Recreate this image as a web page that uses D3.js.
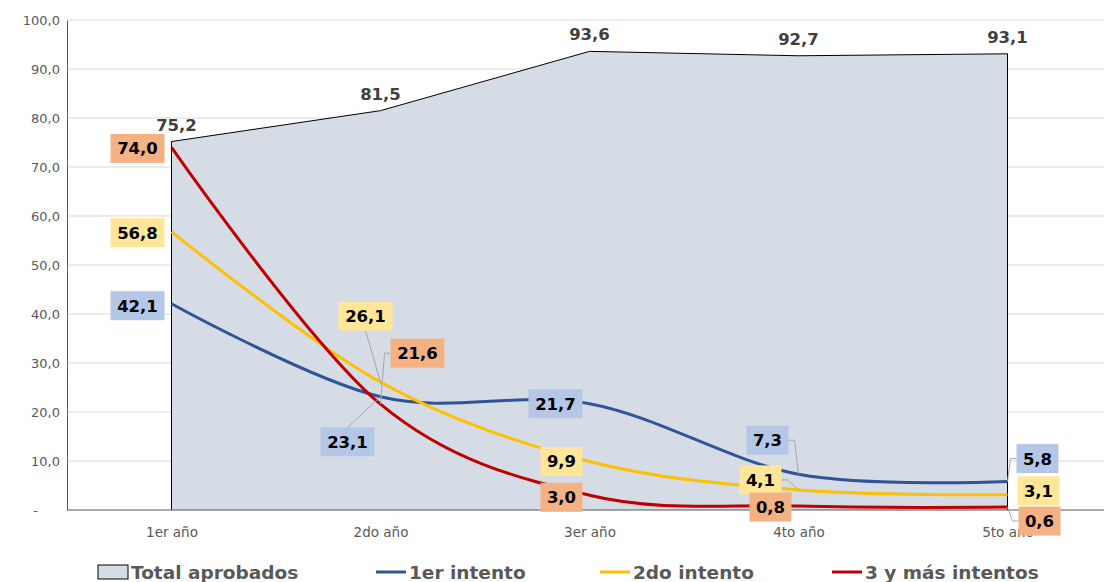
<!DOCTYPE html>
<html>
<head>
<meta charset="utf-8"/>
<title>Aprobados por intento</title>
<script src="https://cdn.jsdelivr.net/npm/d3@7/dist/d3.min.js"></script>
<style>
  body { margin: 0; background: #fff; }
  text { font-family: "DejaVu Sans", sans-serif; }
</style>
</head>
<body>
<script>
  // data
  var years = ["1er año", "2do año", "3er año", "4to año", "5to año"];
  var totalAprobados = [75.2, 81.5, 93.6, 92.7, 93.1];
  var intento1 = [42.1, 23.1, 21.7, 7.3, 5.8];
  var intento2 = [56.8, 26.1, 9.9, 4.1, 3.1];
  var intento3 = [74.0, 21.6, 3.0, 0.8, 0.6];
  var yTicks = [0, 10, 20, 30, 40, 50, 60, 70, 80, 90, 100];
  var seriesNames = ["Total aprobados", "1er intento", "2do intento", "3 y más intentos"];

  // label offsets (box centre relative to the point), in px; 3rd item: leader from side (s) or top/bottom (v)
  var off1 = [[-34, 2], [-33, 45, "v"], [-34, 0], [-31, -34, "s"], [30, -23, "s"]];
  var off2 = [[-34, 1], [-15, -66, "v"], [-28, 0], [-38, -10, "s"], [31, -4]];
  var off3 = [[-34, 1], [37, -51, "s"], [-28, 2], [-28, 1], [32, 14, "s"]];

  var W = 1104, H = 582;
  var svg = d3.select("body").append("svg").attr("width", W).attr("height", H);

  var x = d3.scalePoint().domain(years).range([67, 1112]).padding(0.5);
  var y = d3.scaleLinear().domain([0, 100]).range([510, 20]);
  var fmt = function(v) { return d3.format(".1f")(v).replace(".", ","); };

  // grid
  svg.append("g").selectAll("line").data(yTicks.slice(1)).enter().append("line")
    .attr("x1", 67).attr("x2", W).attr("y1", function(d){ return y(d); }).attr("y2", function(d){ return y(d); })
    .style("stroke", "#d9d9d9").style("stroke-width", 1);

  // area for total
  var area = d3.area().x(function(d, i){ return x(years[i]); }).y0(y(0)).y1(function(d){ return y(d); });
  svg.append("path").datum(totalAprobados).attr("d", area)
    .style("fill", "#d6dce5").style("stroke", "none");
  var outline = [[x(years[0]), y(0)]].concat(totalAprobados.map(function(d, i){ return [x(years[i]), y(d)]; }))
    .concat([[x(years[4]), y(0)]]);
  svg.append("path").attr("d", d3.line()(outline))
    .style("fill", "none").style("stroke", "#000").style("stroke-width", 1);

  // axes
  var yAxis = d3.axisLeft(y).tickValues(yTicks).tickSize(0).tickPadding(7)
    .tickFormat(function(d){ return d == 0 ? "-" : fmt(d); });
  var gy = svg.append("g").attr("transform", "translate(67,0)").call(yAxis);
  gy.select(".domain").style("stroke", "#595959");
  gy.selectAll("text").style("fill", "#595959").style("font-size", "13px")
    .attr("dx", function(d){ return d == 0 ? -22 : 0; });

  var xAxis = d3.axisBottom(x).tickSize(0).tickPadding(17);
  var gx = svg.append("g").attr("transform", "translate(0,510)").call(xAxis);
  gx.select(".domain").attr("d", "M67,0H" + W).style("stroke", "#595959");
  gx.selectAll("text").style("fill", "#595959").style("font-size", "13.5px");

  // smooth lines
  var line = d3.line().x(function(d, i){ return x(years[i]); }).y(function(d){ return y(d); })
    .curve(d3.curveCatmullRom.alpha(0));
  var lines = [
    {vals: intento1, color: "#2f5597", box: "#b4c7e7", off: off1},
    {vals: intento2, color: "#ffc000", box: "#ffe699", off: off2},
    {vals: intento3, color: "#c00000", box: "#f4b183", off: off3}
  ];
  lines.forEach(function(s){
    svg.append("path").datum(s.vals).attr("d", line)
      .style("fill", "none").style("stroke", s.color).style("stroke-width", 3);
  });

  // total labels
  svg.append("g").selectAll("text").data(totalAprobados).enter().append("text")
    .attr("x", function(d, i){ return x(years[i]) + (i == 0 ? 5 : 0); })
    .attr("y", function(d){ return y(d) - 11; })
    .attr("text-anchor", "middle")
    .style("font-size", "16.5px").style("font-weight", "bold").style("fill", "#404040")
    .text(fmt);

  // boxed labels with leader lines
  lines.forEach(function(s){
    s.vals.forEach(function(v, i){
      var px = x(years[i]), py = y(v);
      var o = s.off[i];
      var cx = px + o[0], cy = py + o[1];
      var txt = fmt(v);
      var w = txt.length > 3 ? 54 : 42, h = 29;
      var pts = null;
      if (o[2] == "s") {
        var ex = cx + (o[0] < 0 ? w / 2 : -w / 2);
        var dir = o[0] < 0 ? 1 : -1;
        pts = [[ex, cy], [ex + dir * 6, cy], [px, py]];
      } else if (o[2] == "v") {
        var ey = cy + (o[1] < 0 ? h / 2 : -h / 2);
        pts = [[cx, ey], [px, py]];
      }
      if (pts) {
        svg.append("path").attr("d", d3.line()(pts))
          .style("fill", "none").style("stroke", "#a6a6a6").style("stroke-width", 1);
      }
      svg.append("rect").attr("x", cx - w / 2).attr("y", cy - h / 2)
        .attr("width", w).attr("height", h).style("fill", s.box);
      svg.append("text").attr("x", cx).attr("y", cy + 6).attr("text-anchor", "middle")
        .style("font-size", "16.5px").style("font-weight", "bold").style("fill", "#000")
        .text(txt);
    });
  });

  // legend
  var legX = [98, 376, 600, 832];
  var leg = svg.append("g").attr("transform", "translate(0,572)");
  leg.append("rect").attr("x", legX[0]).attr("y", -7).attr("width", 30).attr("height", 14)
    .style("fill", "#d6dce5").style("stroke", "#000").style("stroke-width", 1);
  lines.forEach(function(s, k){
    leg.append("line").attr("x1", legX[k + 1]).attr("x2", legX[k + 1] + 30).attr("y1", 0).attr("y2", 0)
      .style("stroke", s.color).style("stroke-width", 3);
  });
  leg.selectAll("text").data(seriesNames).enter().append("text")
    .attr("x", function(d, i){ return legX[i] + 33; }).attr("y", 7)
    .style("font-size", "18.5px").style("font-weight", "bold").style("fill", "#595959")
    .text(function(d){ return d; });
</script>
</body>
</html>
